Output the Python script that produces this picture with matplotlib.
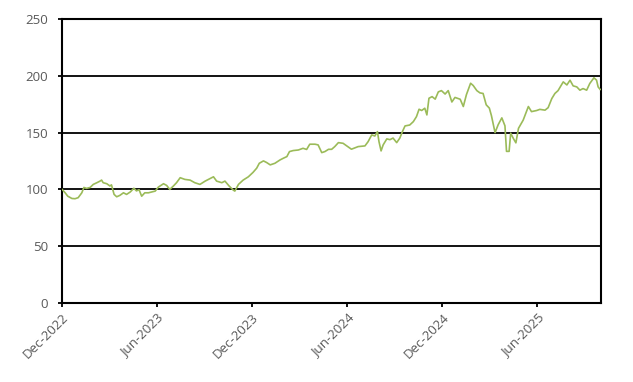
#!/usr/bin/env python3
"""Price index line chart, Dec-2022 to Sep-2025."""
import matplotlib
matplotlib.use("Agg")
import matplotlib.pyplot as plt
import matplotlib.dates as mdates
import pandas as pd

# values
dates = [
    "2022-12-01", "2022-12-07", "2022-12-12", "2022-12-20", "2022-12-26",
    "2023-01-01", "2023-01-08", "2023-01-12", "2023-01-17", "2023-01-24",
    "2023-01-30", "2023-02-06", "2023-02-12", "2023-02-15", "2023-02-18",
    "2023-02-25", "2023-03-03", "2023-03-06", "2023-03-11", "2023-03-16",
    "2023-03-22", "2023-03-29", "2023-04-04", "2023-04-11", "2023-04-18",
    "2023-04-23", "2023-04-28", "2023-05-03", "2023-05-09", "2023-05-16",
    "2023-05-22", "2023-05-29", "2023-06-04", "2023-06-14", "2023-06-20",
    "2023-06-26", "2023-07-03", "2023-07-09", "2023-07-16", "2023-07-25",
    "2023-08-04", "2023-08-13", "2023-08-23", "2023-09-02", "2023-09-18",
    "2023-09-24", "2023-10-04", "2023-10-10", "2023-10-18", "2023-10-26",
    "2023-10-29", "2023-11-05", "2023-11-14", "2023-11-24", "2023-12-03",
    "2023-12-10", "2023-12-15", "2023-12-23", "2023-12-29", "2024-01-05",
    "2024-01-14", "2024-01-24", "2024-01-30", "2024-02-06", "2024-02-11",
    "2024-02-18", "2024-02-28", "2024-03-08", "2024-03-15", "2024-03-21",
    "2024-03-31", "2024-04-06", "2024-04-13", "2024-04-19", "2024-04-26",
    "2024-05-02", "2024-05-08", "2024-05-15", "2024-05-24", "2024-05-31",
    "2024-06-09", "2024-06-22", "2024-07-05", "2024-07-11", "2024-07-18",
    "2024-07-24", "2024-07-29", "2024-08-01", "2024-08-05", "2024-08-09",
    "2024-08-16", "2024-08-22", "2024-08-28", "2024-09-04", "2024-09-10",
    "2024-09-15", "2024-09-20", "2024-09-29", "2024-10-06", "2024-10-12",
    "2024-10-17", "2024-10-22", "2024-10-28", "2024-11-01", "2024-11-05",
    "2024-11-11", "2024-11-17", "2024-11-23", "2024-11-29", "2024-12-06",
    "2024-12-12", "2024-12-19", "2024-12-25", "2025-01-04", "2025-01-10",
    "2025-01-16", "2025-01-24", "2025-01-29", "2025-02-05", "2025-02-11",
    "2025-02-17", "2025-02-23", "2025-03-01", "2025-03-05", "2025-03-12",
    "2025-03-18", "2025-03-25", "2025-03-31", "2025-04-03", "2025-04-08",
    "2025-04-11", "2025-04-16", "2025-04-21", "2025-04-26", "2025-05-05",
    "2025-05-15", "2025-05-21", "2025-05-31", "2025-06-06", "2025-06-16",
    "2025-06-22", "2025-06-29", "2025-07-05", "2025-07-11", "2025-07-21",
    "2025-07-28", "2025-08-03", "2025-08-09", "2025-08-16", "2025-08-22",
    "2025-08-28", "2025-09-04", "2025-09-10", "2025-09-18", "2025-09-23",
    "2025-09-26", "2025-09-30",
]
values = [
    100, 97, 94, 92, 91.8,
    92.7, 97, 101.7, 100.9, 101.7,
    104.4, 105.9, 107.3, 108.2, 105.9,
    105, 103, 104, 95.6, 93.5,
    94.7, 97, 95.6, 97.7, 101,
    98.7, 99.7, 94, 97, 97,
    97.7, 98.5, 102, 105, 103.5,
    100, 103, 105.9, 110.3, 108.8,
    108.2, 105.9, 104.4, 107.3, 111.1,
    107.3, 105.9, 107.3, 103, 99.4,
    98.5, 104.4, 108.2, 111.1, 115,
    118.7, 123, 125.1, 123.7, 121.6,
    123, 126, 127.4, 128.9, 133.3,
    134.2, 134.7, 136.2, 135.2, 139.8,
    139.8, 139.2, 132.4, 133.3, 135.3,
    135.3, 137.7, 141.2, 140.6, 138.3,
    135.4, 137.7, 138.3, 142, 148,
    147, 150.9, 142, 133.9, 139.2,
    144.5, 143.8, 145.2, 141.2, 145.2,
    150.9, 155.9, 156.7, 159.7, 164.1,
    170.6, 169.5, 171.5, 165.6, 180.3,
    181.7, 179.5, 185.9, 187, 184,
    187, 177, 181, 179.4, 173,
    183.5, 193.5, 191.5, 187, 185,
    184.5, 174.5, 171.6, 165, 150,
    157, 163, 156, 133.5, 133.5,
    149.5, 145, 141, 153.8, 161,
    173, 168.5, 169.5, 170.5, 169.8,
    172, 180, 184.5, 187, 194.7,
    192, 196.2, 191.2, 190.3, 187.4,
    188.8, 187.4, 193.3, 198.3, 196.2,
    190.3, 188,
]
y_ticks = [0, 50, 100, 150, 200, 250]
x_ticks = ["2022-12-01", "2023-06-01", "2023-12-01",
           "2024-06-01", "2024-12-01", "2025-06-01"]

LINE_COLOR = "#9BBB59"
TEXT_COLOR = "#595959"

plt.rcParams["font.family"] = ["Open Sans", "DejaVu Sans"]

fig = plt.figure(figsize=(6.33, 3.82), dpi=100)
ax = fig.add_axes([0.098, 0.207, 0.851, 0.743])

ax.plot(pd.to_datetime(dates), values, color=LINE_COLOR, linewidth=1.2, zorder=3)

ax.set_ylim(0, 250)
ax.set_xlim(pd.Timestamp("2022-12-01"), pd.Timestamp("2025-10-01"))
ax.set_yticks(y_ticks)
ax.set_xticks(pd.to_datetime(x_ticks))
ax.xaxis.set_major_formatter(mdates.DateFormatter("%b-%Y"))

ax.yaxis.grid(True, color="black", linewidth=1.3)
ax.set_axisbelow(True)
for side in ("left", "right", "top", "bottom"):
    ax.spines[side].set_color("black")
    ax.spines[side].set_linewidth(1.5)

ax.tick_params(axis="y", length=3, width=1.3, pad=7, labelsize=9.5,
               labelcolor=TEXT_COLOR)
ax.tick_params(axis="x", length=3, width=1.3, pad=3, labelsize=9.5,
               labelcolor=TEXT_COLOR)
for lab in ax.get_xticklabels():
    lab.set_rotation(45)
    lab.set_ha("right")
    lab.set_rotation_mode("anchor")

fig.savefig("out.png", dpi=100)
